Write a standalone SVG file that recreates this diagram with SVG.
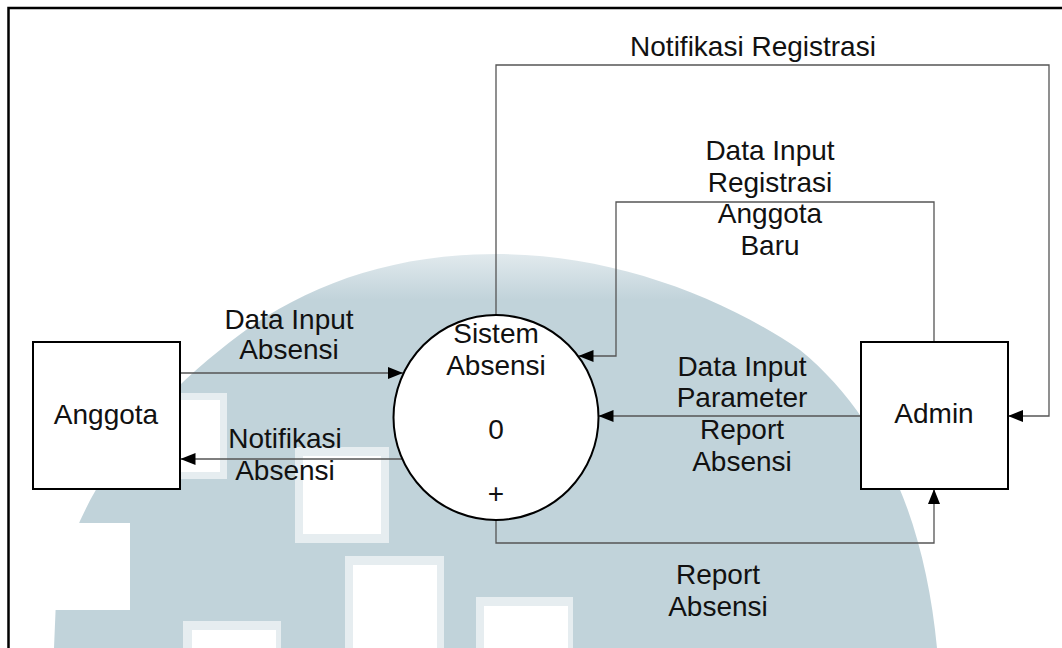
<svg xmlns="http://www.w3.org/2000/svg" width="1062" height="648" viewBox="0 0 1062 648">
<defs>
<linearGradient id="wm" x1="0" y1="250" x2="0" y2="300" gradientUnits="userSpaceOnUse">
<stop offset="0" stop-color="#e4ecef"/>
<stop offset="1" stop-color="#c1d3da"/>
</linearGradient>
<marker id="arr" markerWidth="15" markerHeight="12" refX="15" refY="6" orient="auto" markerUnits="userSpaceOnUse">
<path d="M0,0 L15,6 L0,12 Z" fill="#000"/>
</marker>
<style>
text{font-family:"Liberation Sans",Arial,sans-serif;font-size:28px;fill:#111;text-anchor:middle}
.box{fill:#fff;stroke:#000;stroke-width:2}
.flow{fill:none;stroke:#555;stroke-width:1.3}
.wm{fill:#fff}
</style>
</defs>
<rect width="1062" height="648" fill="#fff"/>
<g id="watermark">
<path d="M54,648 L56,600 C68,520 120,430 220,350 C290,292 380,254 497,254 C610,254 720,295 800,350 C880,415 925,520 937,648 Z" fill="url(#wm)"/>
<rect class="wm" x="295" y="447" width="94" height="96" fill-opacity="0.6"/>
<rect class="wm" x="303" y="456" width="78" height="78"/>
<rect class="wm" x="345" y="556" width="99" height="92" fill-opacity="0.6"/>
<rect class="wm" x="353" y="565" width="84" height="83"/>
<rect class="wm" x="183" y="621" width="98" height="27" fill-opacity="0.6"/>
<rect class="wm" x="192" y="630" width="84" height="18"/>
<rect class="wm" x="476" y="597" width="97" height="51" fill-opacity="0.6"/>
<rect class="wm" x="484" y="606" width="84" height="42"/>
<rect class="wm" x="40" y="523" width="90" height="87"/>
<rect class="wm" x="130" y="393" width="97" height="86" fill-opacity="0.6"/>
<rect class="wm" x="130" y="400" width="90" height="72"/>
</g>
<path d="M8.5,660 V8 H1062" fill="none" stroke="#000" stroke-width="2.5"/>
<g id="connectors">
<path class="flow" d="M180.5,373 H403" marker-end="url(#arr)"/>
<path class="flow" d="M402,459 H180.5" marker-end="url(#arr)"/>
<path class="flow" d="M496,315 V65 H1049 V416 H1008" marker-end="url(#arr)"/>
<path class="flow" d="M934,342 V202 H616 V356 H578.5" marker-end="url(#arr)"/>
<path class="flow" d="M861,416 H598.5" marker-end="url(#arr)"/>
<path class="flow" d="M496,520 V543 H934 V489" marker-end="url(#arr)"/>
</g>
<g id="labels">
<text x="289" y="329">Data Input</text>
<text x="289" y="359">Absensi</text>
<text x="285" y="448">Notifikasi</text>
<text x="285" y="480">Absensi</text>
<text x="753" y="56">Notifikasi Registrasi</text>
<text x="770" y="160">Data Input</text>
<text x="770" y="192">Registrasi</text>
<text x="770" y="223">Anggota</text>
<text x="770" y="255">Baru</text>
<text x="742" y="376">Data Input</text>
<text x="742" y="407">Parameter</text>
<text x="742" y="439">Report</text>
<text x="742" y="471">Absensi</text>
<text x="718" y="584">Report</text>
<text x="718" y="616">Absensi</text>
</g>
<g id="anggota">
<rect class="box" x="33" y="342" width="147" height="147"/>
<text x="106" y="424">Anggota</text>
</g>
<g id="sistem">
<circle cx="496" cy="417.5" r="102.5" fill="#fff" stroke="#000" stroke-width="2"/>
<text x="496" y="343">Sistem</text>
<text x="496" y="375">Absensi</text>
<text x="496" y="439">0</text>
<text x="496" y="503">+</text>
</g>
<g id="admin">
<rect class="box" x="861" y="342" width="147" height="147"/>
<text x="934" y="423">Admin</text>
</g>
</svg>
